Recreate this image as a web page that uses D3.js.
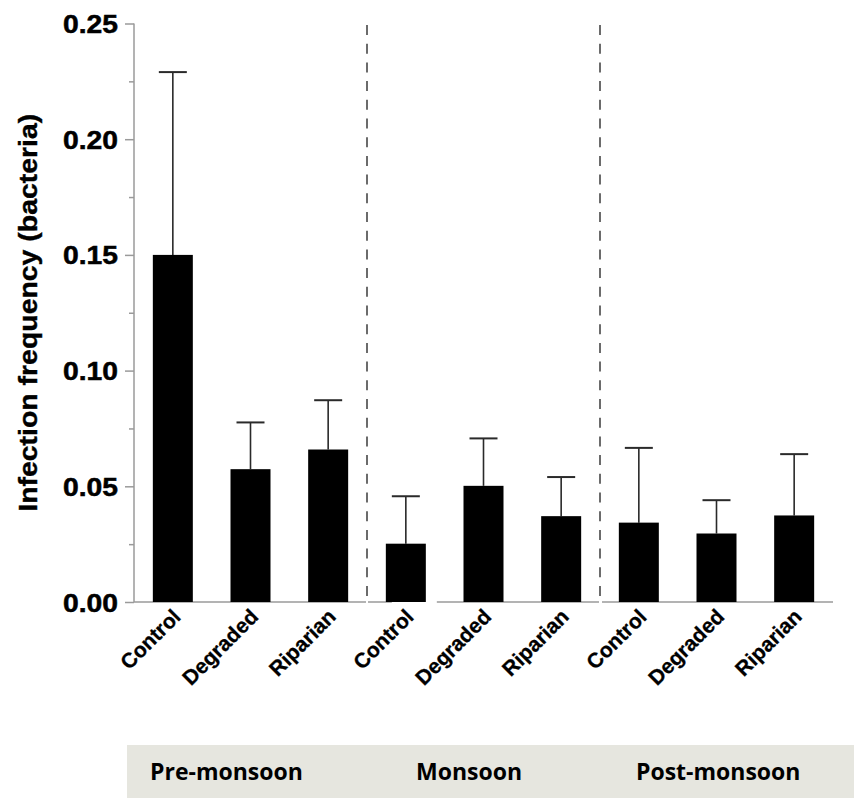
<!DOCTYPE html>
<html>
<head>
<meta charset="utf-8">
<script src="https://cdn.jsdelivr.net/npm/d3@7"></script>
<style>
  html, body { margin: 0; padding: 0; background: #fff; }
  svg { display: block; }
</style>
</head>
<body>
<svg id="chart" width="854" height="798"></svg>
<script>
// Seasons and site types
const seasons = ["Pre-monsoon", "Monsoon", "Post-monsoon"];
const sites = ["Control", "Degraded", "Riparian"];

// Mean infection frequency per site, one array per season
const preMeans  = [0.150, 0.0574, 0.0659];
const monMeans  = [0.0252, 0.0502, 0.0371];
const postMeans = [0.0343, 0.0296, 0.0374];

// Upper error (standard error) per site, one array per season
const preErr  = [0.079, 0.0202, 0.0213];
const monErr  = [0.0205, 0.0205, 0.0169];
const postErr = [0.0323, 0.0144, 0.0265];

const yTicks = [0.00, 0.05, 0.10, 0.15, 0.20, 0.25];
const yMinorTicks = [0.025, 0.075, 0.125, 0.175, 0.225];

const meansBySeason = [preMeans, monMeans, postMeans];
const errBySeason = [preErr, monErr, postErr];

const rows = [];
seasons.forEach((s, si) => {
  sites.forEach((site, i) => {
    rows.push({ key: s + "|" + site, season: s, si, site,
                mean: meansBySeason[si][i], err: errBySeason[si][i] });
  });
});

const svg = d3.select("#chart");
const plotLeft = 134, plotRight = 833, plotTop = 23.5, base = 602;
const sansBold = "'Liberation Sans', Arial, Helvetica, sans-serif";

const x = d3.scaleBand()
  .domain(rows.map(d => d.key))
  .range([plotLeft, plotRight])
  .paddingInner(0.485)
  .paddingOuter(0.2425);

const y = d3.scaleLinear().domain([0, 0.25]).range([base, plotTop]);

// Y axis: major ticks with labels, minor ticks without
const axisColor = "#9a9a9a";
const yAxis = svg.append("g").attr("transform", `translate(${plotLeft},0)`)
  .call(d3.axisLeft(y).tickValues(yTicks).tickSize(9).tickFormat(d3.format(".2f")));
yAxis.select(".domain").attr("stroke", axisColor).attr("stroke-width", 1.5)
  .attr("d", `M0,${y(0.25)}V${base}`);
yAxis.selectAll(".tick line").attr("stroke", axisColor).attr("stroke-width", 1.5);
yAxis.selectAll(".tick text")
  .attr("x", -16)
  .attr("dy", "0.36em")
  .attr("fill", "#000")
  .attr("stroke", "#000")
  .attr("stroke-width", 0.5)
  .style("font-family", sansBold)
  .style("font-weight", "bold")
  .style("font-size", "25px")
  .attr("textLength", 55)
  .attr("lengthAdjust", "spacingAndGlyphs");

svg.append("g").attr("transform", `translate(${plotLeft},0)`)
  .call(d3.axisLeft(y).tickValues(yMinorTicks).tickSize(5).tickFormat(""))
  .call(g => g.select(".domain").remove())
  .call(g => g.selectAll(".tick line").attr("stroke", axisColor).attr("stroke-width", 1.5));

// Y axis title
svg.append("text")
  .attr("transform", `translate(37,${(y(0.25) + base) / 2}) rotate(-90)`)
  .attr("text-anchor", "middle")
  .attr("stroke", "#000")
  .attr("stroke-width", 0.4)
  .style("font-family", sansBold)
  .style("font-weight", "bold")
  .style("font-size", "26px")
  .attr("textLength", 398)
  .attr("lengthAdjust", "spacingAndGlyphs")
  .text("Infection frequency (bacteria)");

// Baseline, drawn per season and interrupted beside the monsoon control bar
const step = x.step();
const bound = i => plotLeft + step * i;
const gapKey = "Monsoon|Control";
const segs = [
  [bound(0), bound(3) - 1],
  [bound(3) + 1, x(gapKey) + 6],
  [x(gapKey) + x.bandwidth() + 11, bound(6) - 1],
  [bound(6) + 2, plotRight]
];
svg.append("g").selectAll("line").data(segs).join("line")
  .attr("x1", d => d[0]).attr("x2", d => d[1])
  .attr("y1", base).attr("y2", base)
  .attr("stroke", axisColor).attr("stroke-width", 1.5);

// Dashed season dividers
svg.append("g").selectAll("line").data([3, 6]).join("line")
  .attr("x1", d => bound(d)).attr("x2", d => bound(d))
  .attr("y1", 25).attr("y2", base)
  .attr("stroke", "#6b6b6b").attr("stroke-width", 2)
  .attr("stroke-dasharray", "10,8.7");

// Error bars (upper only)
const eb = svg.append("g");
const cx = d => x(d.key) + x.bandwidth() / 2;
eb.selectAll("line.v").data(rows).join("line").attr("class", "v")
  .attr("x1", cx).attr("x2", cx)
  .attr("y1", d => y(d.mean)).attr("y2", d => y(d.mean + d.err))
  .attr("stroke", "#2a2a2a").attr("stroke-width", 1.6);
eb.selectAll("line.c").data(rows).join("line").attr("class", "c")
  .attr("x1", d => cx(d) - 14).attr("x2", d => cx(d) + 14)
  .attr("y1", d => y(d.mean + d.err)).attr("y2", d => y(d.mean + d.err))
  .attr("stroke", "#2a2a2a").attr("stroke-width", 2);

// Bars
svg.append("g").selectAll("rect").data(rows).join("rect")
  .attr("x", d => x(d.key))
  .attr("width", x.bandwidth())
  .attr("y", d => y(d.mean))
  .attr("height", d => y(0) - y(d.mean))
  .attr("fill", "#000");

// Rotated site labels
svg.append("g").selectAll("text").data(rows).join("text")
  .attr("transform", d => `translate(${cx(d) + 9},${base + 16}) rotate(-45)`)
  .attr("text-anchor", "end")
  .attr("stroke", "#000")
  .attr("stroke-width", 0.3)
  .style("font-family", sansBold)
  .style("font-weight", "bold")
  .style("font-size", "21px")
  .text(d => d.site);

// Season band
const bandLabelX = [150, 416, 636];
svg.append("rect")
  .attr("x", 127).attr("y", 745)
  .attr("width", 854 - 127).attr("height", 53)
  .attr("fill", "#e6e6df");
svg.append("g").selectAll("text").data(seasons).join("text")
  .attr("x", (d, i) => bandLabelX[i])
  .attr("y", 780)
  .style("font-family", "'Open Sans', sans-serif")
  .style("font-weight", "bold")
  .style("font-size", "23px")
  .attr("fill", "#000")
  .text(d => d);
</script>
</body>
</html>
